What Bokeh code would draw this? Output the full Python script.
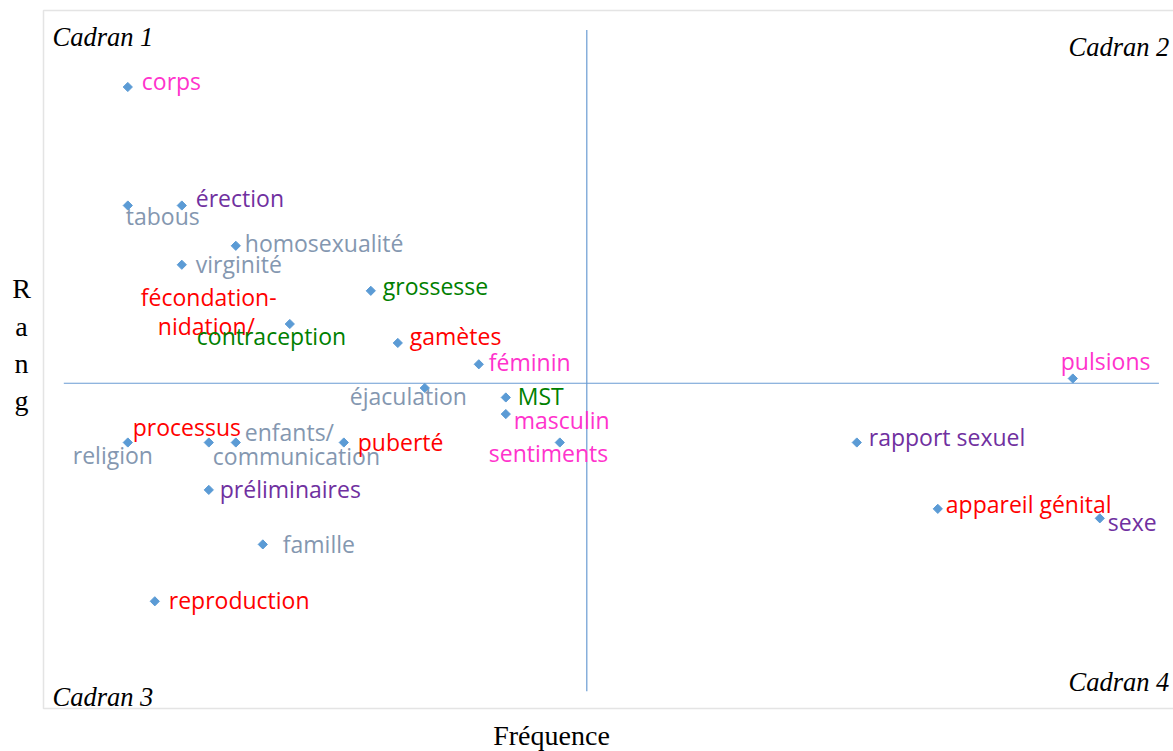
import math
from bokeh.plotting import figure
from bokeh.models import ColumnDataSource, Range1d, Label, BoxAnnotation
from bokeh.core.properties import value
from bokeh.embed import file_html
from bokeh.resources import INLINE

# ---- data ----
termes = ["corps", "tabous", "érection", "homosexualité", "virginité", "grossesse",
          "fécondation-nidation/contraception", "gamètes", "féminin", "éjaculation",
          "pulsions", "MST", "masculin", "religion", "processus", "enfants/communication",
          "puberté", "sentiments", "rapport sexuel", "préliminaires", "appareil génital",
          "sexe", "famille", "reproduction"]
frequence = [3, 3, 5, 7, 5, 12, 9, 13, 16, 14, 38, 17, 17, 3, 6, 7, 11, 19, 30, 6, 33, 39, 8, 4]
rang = [1.5, 2.0, 2.0, 2.17, 2.25, 2.36, 2.5, 2.58, 2.67, 2.77, 2.73, 2.81, 2.88, 3.0,
        3.0, 3.0, 3.0, 3.0, 3.0, 3.2, 3.28, 3.32, 3.43, 3.67]
categorie = ["corps", "contexte", "acte", "contexte", "contexte", "prevention",
             "biologie", "biologie", "corps", "contexte", "corps", "prevention", "corps",
             "contexte", "biologie", "contexte", "biologie", "corps", "acte", "acte",
             "biologie", "acte", "contexte", "biologie"]
freq_moyenne = 20
rang_moyen = 2.75
ligne_freq_x = [0.63, 41.19]
ligne_rang_y = [1.26, 4.05]

# ---- styles ----
couleurs = {"corps": "#FF33CC", "contexte": "#8497B0", "acte": "#7030A0",
            "biologie": "#FF0000", "prevention": "#008000"}
# label pieces: (index of term, text, category colour, dx px, dy px)
pieces = [
    (0, "corps", "corps", 14, -6),
    (1, "tabous", "contexte", -2, 10),
    (2, "érection", "acte", 14, -8),
    (3, "homosexualité", "contexte", 9, -3),
    (4, "virginité", "contexte", 14, -1),
    (5, "grossesse", "prevention", 12, -5),
    (6, "fécondation-", "biologie", -149, -27),
    (6, "nidation/", "biologie", -132, 2),
    (6, "contraception", "prevention", -93, 12),
    (7, "gamètes", "biologie", 12, -7),
    (8, "féminin", "corps", 10, -2),
    (9, "éjaculation", "contexte", -75, 8),
    (10, "pulsions", "corps", -12, -18),
    (11, "MST", "prevention", 12, -1),
    (12, "masculin", "corps", 8, 6),
    (13, "religion", "contexte", -55, 12),
    (14, "processus", "biologie", -76, -16),
    (15, "enfants/", "contexte", 9, -11),
    (15, "communication", "contexte", -23, 13),
    (16, "puberté", "biologie", 14, -1),
    (17, "sentiments", "corps", -71, 10),
    (18, "rapport sexuel", "acte", 12, -6),
    (19, "préliminaires", "acte", 11, -1),
    (20, "appareil génital", "biologie", 8, -5),
    (21, "sexe", "acte", 8, 4),
    (22, "famille", "contexte", 20, 0),
    (23, "reproduction", "biologie", 14, -1),
]

W, H = 1173, 751
X0, XU = 46.3, 27.0      # px of frequency 0, px per unit
Y2, YU = 205.0, 237.0    # px of rank 2, px per unit


def fx(px):
    return (px - X0) / XU


def ry(py):
    return 2 + (py - Y2) / YU


p = figure(width=W, height=H, output_backend="svg", toolbar_location=None,
           x_range=Range1d(fx(0), fx(W)), y_range=Range1d(ry(H), ry(0)),
           min_border_left=0, min_border_top=0, min_border_right=0, min_border_bottom=0,
           background_fill_color="white", border_fill_color="white")
p.xaxis.visible = False
p.yaxis.visible = False
p.grid.visible = False
p.outline_line_color = None

# chart border (right side runs off the picture, as in the reference)
p.add_layout(BoxAnnotation(left=fx(43), right=fx(1200), top=ry(10), bottom=ry(708),
                           fill_alpha=0, line_color="#A6A6A6", line_width=1.5))

line_col = "#6A9BD3"
p.line(x=ligne_freq_x, y=[rang_moyen, rang_moyen], line_color=line_col, line_width=1.2)
p.line(x=[freq_moyenne, freq_moyenne], y=ligne_rang_y, line_color=line_col, line_width=1.2)

src = ColumnDataSource(dict(x=frequence, y=rang, t=termes, c=categorie))
p.scatter(x="x", y="y", source=src, marker="square", angle=math.pi / 4, size=6.5,
          fill_color="#5B9BD5", line_color="#5B9BD5")

lab = ColumnDataSource(dict(
    x=[frequence[i] for i, *_ in pieces],
    y=[rang[i] for i, *_ in pieces],
    t=[t for _, t, *_ in pieces],
    col=[couleurs[c] for _, _, c, _, _ in pieces],
    dx=[d for *_, d, _ in pieces],
    dy=[d for *_, d in pieces],
))
p.text(x="x", y="y", text="t", source=lab, x_offset="dx", y_offset="dy",
       text_color="col", text_font=value("Open Sans"), text_font_size="23px",
       text_align="left", text_baseline="middle")

serif = "Liberation Serif"
for txt, px, py in [("Cadran 1", 52, 36), ("Cadran 2", 1068, 46),
                    ("Cadran 3", 52, 696), ("Cadran 4", 1068, 681)]:
    p.add_layout(Label(x=fx(px), y=ry(py), text=txt, text_font=serif,
                       text_font_style="italic", text_font_size="26.5px",
                       text_color="black", text_align="left", text_baseline="middle"))

for ch, py in zip("Rang", [288, 326, 363, 400]):
    p.add_layout(Label(x=fx(21), y=ry(py), text=ch, text_font=serif,
                       text_font_size="28px", text_color="black",
                       text_align="center", text_baseline="middle"))

p.add_layout(Label(x=fx(551), y=ry(735), text="Fréquence", text_font=serif,
                   text_font_size="28px", text_color="black",
                   text_align="center", text_baseline="middle"))

open("out.html", "w").write(file_html(p, INLINE))
